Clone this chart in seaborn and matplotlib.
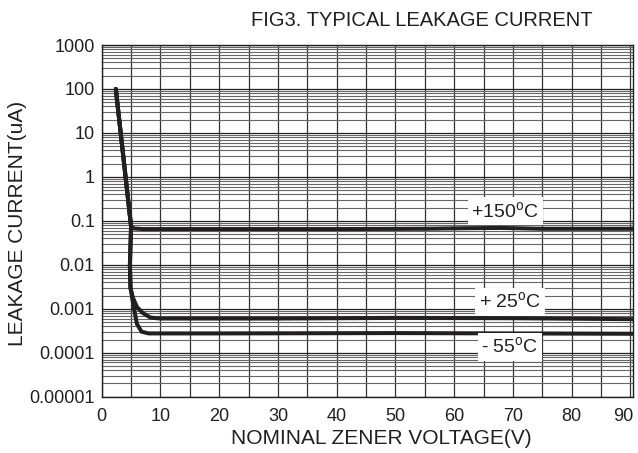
import numpy as np
import pandas as pd
import matplotlib
matplotlib.use("Agg")
import matplotlib.pyplot as plt
import matplotlib.transforms as mtransforms
import seaborn as sns
from matplotlib.ticker import FixedLocator, LogLocator, NullFormatter

# curve data (V, uA)
x_150 = [2.4, 5.0, 5.5, 7.0, 20, 40, 55, 62, 68, 75, 90.5]
y_150 = [100, 0.075, 0.067, 0.065, 0.065, 0.065, 0.066, 0.068, 0.069, 0.066, 0.066]

x_25 = [2.4, 5.0, 4.8, 4.9, 5.3, 6.0, 7.0, 8.3, 10, 30, 50, 70, 90.5]
y_25 = [100, 0.075, 0.01, 0.003, 0.0018, 0.0011, 0.0008, 0.00063, 0.0006, 0.0006, 0.00062, 0.00061, 0.00058]

x_m55 = [2.4, 5.0, 4.8, 4.9, 5.4, 6.0, 6.8, 8, 20, 50, 90.5]
y_m55 = [100, 0.075, 0.01, 0.003, 0.0012, 0.00045, 0.0003, 0.000275, 0.000275, 0.00028, 0.00027]

curve_names = ['+150', '+25', '-55']
label_texts = [r'+150$^{\rm o}$C', r'+ 25$^{\rm o}$C', r'- 55$^{\rm o}$C']
label_x = [68.7, 69.5, 69.5]
label_y = [0.165, 0.00143, 0.000135]

y_ticks = [1e-5, 1e-4, 1e-3, 1e-2, 1e-1, 1, 10, 100, 1000]
y_ticklabels = ['0.00001', '0.0001', '0.001', '0.01', '0.1', '1', '10', '100', '1000']
x_ticks = [0, 10, 20, 30, 40, 50, 60, 70, 80, 90]

sns.set_style('white')
plt.rcParams['font.family'] = ['Liberation Sans', 'DejaVu Sans']
plt.rcParams['mathtext.fontset'] = 'custom'
plt.rcParams['mathtext.rm'] = 'Liberation Sans'

ink = '#231f20'
W, H = 638, 453

fig = plt.figure(figsize=(6.38, 4.53), dpi=100)
ax = fig.add_axes([101.7 / W, 1 - 396.7 / H, (633.3 - 101.7) / W, (396.7 - 45) / H])

frames = []
for name, xs, ys in zip(curve_names, [x_150, x_25, x_m55], [y_150, y_25, y_m55]):
    frames.append(pd.DataFrame({'v': xs, 'i': ys, 'curve': name}))
df = pd.concat(frames, ignore_index=True)

ax.set_yscale('log')
ax.set_xlim(0, 90.5)
ax.set_ylim(1e-5, 1000)

# grid
ax.yaxis.set_major_locator(FixedLocator(y_ticks))
ax.yaxis.set_minor_locator(LogLocator(base=10, subs=np.arange(2, 10)))
ax.yaxis.set_minor_formatter(NullFormatter())
ax.set_yticklabels(y_ticklabels)
ax.xaxis.set_major_locator(FixedLocator(x_ticks))
ax.xaxis.set_minor_locator(FixedLocator(np.arange(5, 91, 10)))
ax.grid(True, which='major', axis='y', color='#222222', lw=0.9)
ax.grid(True, which='minor', axis='y', color='#666666', lw=0.8)
ax.grid(True, which='both', axis='x', color='#333333', lw=0.9)
ax.set_axisbelow(True)

for name in curve_names:
    sns.lineplot(data=df[df.curve == name], x='v', y='i', sort=False, estimator=None,
                 color=ink, lw=2.9, ax=ax, legend=False)

for t, lx, ly in zip(label_texts, label_x, label_y):
    ax.text(lx, ly, t, fontsize=14, ha='center', va='center', color=ink,
            bbox=dict(facecolor='white', edgecolor='none', pad=2.5))

for s in ax.spines.values():
    s.set_color(ink)
    s.set_linewidth(1.0)

ax.tick_params(which='both', length=0, labelsize=13, colors=ink)
ax.tick_params(axis='x', pad=8)
ax.tick_params(axis='y', pad=5)
ax.set_xlabel('')
ax.set_ylabel('')

# last x label sits a little left of its line in the reference
last = ax.get_xticklabels()[-1]
last.set_transform(last.get_transform() + mtransforms.ScaledTranslation(-7 / 100, 0, fig.dpi_scale_trans))

fig.text(381 / W, 1 - 438 / H, 'NOMINAL ZENER VOLTAGE(V)', fontsize=15, ha='center', va='center', color=ink)
fig.text(17.5 / W, 1 - 223 / H, 'LEAKAGE CURRENT(uA)', fontsize=15, ha='center', va='center',
         rotation=90, color=ink)
fig.text(593 / W, 1 - 20 / H, 'FIG3. TYPICAL LEAKAGE CURRENT', fontsize=14.5, ha='right', va='center',
         color=ink)

fig.savefig('out.png', dpi=100)
